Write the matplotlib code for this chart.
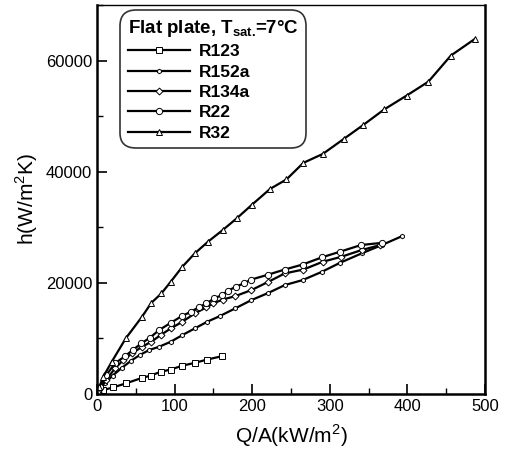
import matplotlib
matplotlib.use("Agg")
import matplotlib.pyplot as plt
from matplotlib.ticker import MultipleLocator

plt.rcParams['font.family'] = ['Liberation Sans', 'DejaVu Sans']
plt.rcParams['mathtext.fontset'] = 'custom'
plt.rcParams['mathtext.rm'] = 'Liberation Sans'
plt.rcParams['mathtext.bf'] = 'Liberation Sans:bold'

series_names = ["R123", "R152a", "R134a", "R22", "R32"]
markers = ["s", "h", "D", "o", "^"]

r123_x = [1, 4, 8, 21, 37, 58, 69, 82, 95, 110, 126, 142, 161]
r123_y = [200, 400, 700, 1200, 1900, 2900, 3300, 4000, 4400, 5100, 5600, 6200, 6800]

r152a_x = [1, 4, 10, 20, 32, 44, 55, 67, 80, 95, 110, 126, 142, 158, 178, 199, 221, 242, 265, 290, 313, 341, 367, 393]
r152a_y = [300, 900, 1900, 3300, 4700, 6000, 7000, 7900, 8500, 9400, 10600, 11800, 13000, 14000, 15400, 16900, 18200, 19600, 20500, 22000, 23600, 25300, 26800, 28400]

r134a_x = [1, 4, 12, 23, 34, 45, 58, 70, 82, 95, 110, 126, 141, 150, 162, 178, 199, 221, 242, 266, 291, 315, 341, 365]
r134a_y = [300, 1000, 2500, 4600, 6100, 7300, 8500, 9400, 10600, 11800, 13000, 14500, 15600, 16300, 17000, 17600, 18700, 20200, 21700, 22400, 23800, 24700, 25900, 26800]

r22_x = [1, 4, 12, 23, 36, 46, 57, 68, 80, 95, 109, 121, 131, 141, 151, 161, 169, 179, 189, 199, 221, 242, 265, 290, 313, 340, 367]
r22_y = [400, 1300, 3400, 5500, 6800, 7900, 9100, 10100, 11500, 12800, 14000, 14800, 15600, 16300, 17200, 17800, 18600, 19300, 19900, 20600, 21500, 22400, 23300, 24600, 25600, 26800, 27200]

r32_x = [1, 3, 8, 19, 37, 58, 70, 83, 95, 110, 126, 143, 162, 180, 200, 223, 244, 266, 291, 318, 343, 370, 399, 427, 456, 487]
r32_y = [500, 1300, 3100, 5800, 10000, 13900, 16400, 18100, 20200, 22900, 25300, 27400, 29500, 31600, 34100, 36900, 38600, 41600, 43200, 45900, 48400, 51200, 53700, 56200, 60900, 63900]

xs = [r123_x, r152a_x, r134a_x, r22_x, r32_x]
ys = [r123_y, r152a_y, r134a_y, r22_y, r32_y]
msizes = [4, 3.2, 3.5, 4.5, 3.8]

fig = plt.figure(figsize=(5.06, 4.62), dpi=100)
ax = fig.add_axes([97/506, 68/462, 388/506, 389/462])

for name, x, y, m, ms in zip(series_names, xs, ys, markers, msizes):
    ax.plot(x, y, color='black', lw=1.6, marker=m, ms=ms, mfc='white',
            mec='black', mew=0.7, label=name)

ax.set_xlim(0, 500)
ax.set_ylim(0, 70000)
ax.xaxis.set_major_locator(MultipleLocator(100))
ax.xaxis.set_minor_locator(MultipleLocator(50))
ax.yaxis.set_major_locator(MultipleLocator(20000))
ax.yaxis.set_minor_locator(MultipleLocator(10000))
ax.tick_params(which='both', direction='in', top=False, right=False, labelsize=12)
ax.tick_params(which='major', length=7, width=1.2)
ax.tick_params(which='minor', length=4, width=1.0)
ax.spines['left'].set_linewidth(1.8)
ax.spines['bottom'].set_linewidth(1.8)
ax.spines['top'].set_linewidth(1.0)
ax.spines['right'].set_linewidth(1.8)

ax.set_xlabel("Q/A(kW/m$^2$)", fontsize=15, labelpad=6)
ax.set_ylabel("h(W/m$^2$K)", fontsize=15, labelpad=4)

leg = ax.legend(title=r"Flat plate, T$_{\mathbf{sat.}}\!$=7°C", loc='upper left',
                bbox_to_anchor=(0.059, 0.987), frameon=True, fancybox=True,
                edgecolor='black', handlelength=3.6, handletextpad=0.5,
                labelspacing=0.3, borderpad=0.45, borderaxespad=0,
                prop={'weight': 'bold', 'size': 12.5})
leg.get_title().set_fontweight('bold')
leg.get_title().set_fontsize(13.5)
leg._legend_box.align = "left"
leg.get_frame().set_linewidth(1.2)
leg.get_frame().set_boxstyle('round', pad=0, rounding_size=0.9)

fig.savefig("out.png", dpi=100)
